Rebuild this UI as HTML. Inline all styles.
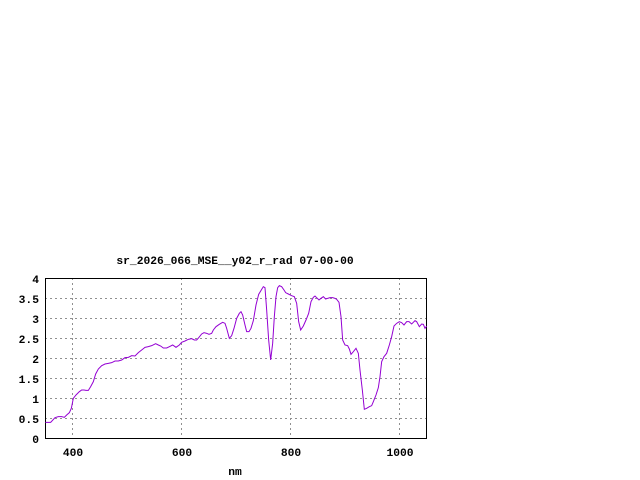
<!DOCTYPE html>
<html><head><style>body{margin:0;background:#fff}svg{display:block}</style></head><body>
<svg width="640" height="480" xmlns="http://www.w3.org/2000/svg" font-family="Liberation Mono, monospace" font-size="11.3" font-weight="bold" fill="#000">
<rect width="640" height="480" fill="#fff"/>
<g stroke="#909090" stroke-dasharray="2,3" stroke-width="1">
<line x1="45" y1="398.5" x2="426" y2="398.5"/><line x1="45" y1="358.5" x2="426" y2="358.5"/>
<line x1="45" y1="318.5" x2="426" y2="318.5"/><line x1="45" y1="418.5" x2="426" y2="418.5"/>
<line x1="45" y1="378.5" x2="426" y2="378.5"/><line x1="45" y1="338.5" x2="426" y2="338.5"/>
<line x1="45" y1="298.5" x2="426" y2="298.5"/>
<line x1="72.5" y1="278" x2="72.5" y2="438"/><line x1="181.5" y1="278" x2="181.5" y2="438"/>
<line x1="290.5" y1="278" x2="290.5" y2="438"/><line x1="399.5" y1="278" x2="399.5" y2="438"/>
</g>
<rect x="45.5" y="278.5" width="381" height="160" fill="none" stroke="#000"/>
<g text-anchor="end">
<text x="39" y="443">0</text><text x="39" y="423">0.5</text><text x="39" y="403">1</text>
<text x="39" y="383">1.5</text><text x="39" y="363">2</text><text x="39" y="343">2.5</text>
<text x="39" y="323">3</text><text x="39" y="303">3.5</text><text x="39" y="283">4</text>
</g>
<g text-anchor="middle">
<text x="73" y="456">400</text><text x="182" y="456">600</text><text x="291" y="456">800</text><text x="400" y="456">1000</text>
<text x="235" y="475">nm</text>
<text x="235" y="264">sr_2026_066_MSE__y02_r_rad 07-00-00</text>
</g>
<g transform="translate(30,250) scale(0.33333)">
<polyline fill="none" stroke="#9400d3" stroke-width="1" vector-effect="non-scaling-stroke" points="46,517 62,517 75,503 85,500 95,500 103,502 110,495 118,488 124,475 130,445 138,435 148,425 155,420 162,420 168,421 175,421 182,410 190,395 197,372 205,357 215,347 225,342 235,340 245,338 255,333 265,333 275,330 285,323 295,322 305,317 315,318 325,308 335,300 345,292 355,290 365,287 377,281 385,285 392,288 400,294 410,294 418,290 428,285 438,292 448,285 455,277 465,273 475,268 485,266 493,270 500,270 507,262 515,252 522,248 530,250 537,253 545,250 550,240 558,230 568,223 578,217 585,220 590,235 598,265 605,257 612,235 620,205 628,190 633,185 638,195 645,225 650,245 657,245 663,235 670,212 678,165 686,133 695,118 700,110 705,113 710,180 716,270 722,330 728,280 733,200 738,140 743,113 748,107 755,110 762,120 767,128 775,132 785,137 793,140 800,160 806,215 812,240 820,228 828,210 836,190 843,155 850,142 855,138 860,143 867,150 873,145 880,140 887,147 893,145 900,143 908,143 915,145 920,148 927,157 933,200 938,270 945,285 953,287 958,297 963,313 970,305 978,295 985,310 990,360 997,420 1003,478 1010,475 1018,470 1025,467 1030,455 1038,435 1045,413 1050,380 1055,335 1062,320 1070,310 1078,285 1085,260 1092,228 1100,220 1108,215 1115,218 1122,225 1130,215 1137,215 1145,222 1150,217 1155,212 1160,215 1168,230 1175,222 1180,223 1185,235 1190,228"/>
</g>
</svg>
</body></html>
